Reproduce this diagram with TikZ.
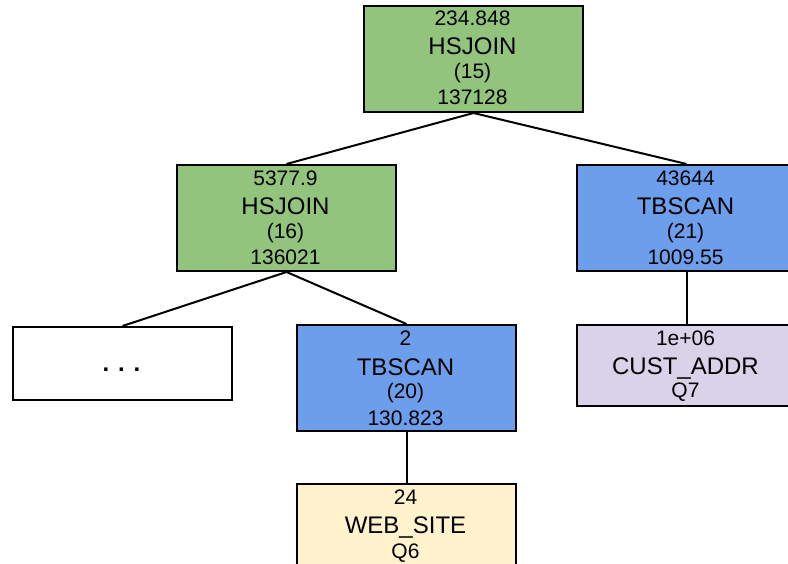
\documentclass[tikz,border=0pt]{standalone}
\usepackage{fontspec}
\setmainfont{Liberation Sans}
\tikzset{
  op/.style={draw=black, line width=2pt, anchor=north west, inner sep=0pt,
             minimum width=219pt},
  small/.style={anchor=base, inner sep=0pt, font=\fontsize{21}{24}\selectfont},
  big/.style={anchor=base, inner sep=0pt, font=\fontsize{24}{28}\selectfont},
  link/.style={draw=black, line width=2pt}
}
\definecolor{joingreen}{HTML}{93C47D}
\definecolor{scanblue}{HTML}{6D9EEB}
\definecolor{tabyellow}{HTML}{FFF2CC}
\definecolor{tabpurple}{HTML}{D9D2E9}
\begin{document}
\begin{tikzpicture}[x=1pt, y=-1pt]
\useasboundingbox (0,0) rectangle (788,564);

% operator boxes
\node[op, fill=joingreen, minimum height=106pt] (j15) at (363,5) {};
\node[op, fill=joingreen, minimum height=106pt] (j16) at (176,164) {};
\node[op, fill=scanblue,  minimum height=106pt] (s21) at (576,164) {};
\node[op, fill=white,     minimum height=73pt]  (dots) at (12,326) {};
\node[op, fill=scanblue,  minimum height=106pt] (s20) at (296,324) {};
\node[op, fill=tabyellow, minimum height=84pt]  (web) at (296,483) {};
\node[op, fill=tabpurple, minimum height=81pt]  (cust) at (576,324) {};

% connectors
\draw[link] (j15.south) -- (j16.north);
\draw[link] (j15.south) -- (s21.north);
\draw[link] (j16.south) -- (dots.north);
\draw[link] (j16.south) -- (s20.north);
\draw[link] (s20.south) -- (web.north);
\draw[link] (s21.south) -- (cust.north);

% HSJOIN (15)
\node[small] (j15a) at (472.5,26) {234.848};
\node[big]   (j15b) at (472.5,55) {HSJOIN};
\node[small] (j15c) at (472.5,79) {(15)};
\node[small] (j15d) at (472.5,105) {137128};

% HSJOIN (16)
\node[small] (j16a) at (285.5,186) {5377.9};
\node[big]   (j16b) at (285.5,215) {HSJOIN};
\node[small] (j16c) at (285.5,239) {(16)};
\node[small] (j16d) at (285.5,265) {136021};

% TBSCAN (21)
\node[small] (s21a) at (685.5,186) {43644};
\node[big]   (s21b) at (685.5,215) {TBSCAN};
\node[small] (s21c) at (685.5,239) {(21)};
\node[small] (s21d) at (685.5,265) {1009.55};

% elided subtree
\node[big] (dotsa) at (121.5,371) {\textbf{. . .}};

% TBSCAN (20)
\node[small] (s20a) at (405.5,346) {2};
\node[big]   (s20b) at (405.5,375) {TBSCAN};
\node[small] (s20c) at (405.5,399) {(20)};
\node[small] (s20d) at (405.5,425) {130.823};

% WEB_SITE
\node[small] (weba) at (405.5,504) {24};
\node[big]   (webb) at (405.5,533) {WEB\_SITE};
\node[small] (webc) at (405.5,558) {Q6};

% CUST_ADDR
\node[small] (custa) at (685.5,345) {1e+06};
\node[big]   (custb) at (685.5,374) {CUST\_ADDR};
\node[small] (custc) at (685.5,398) {Q7};
\end{tikzpicture}
\end{document}
